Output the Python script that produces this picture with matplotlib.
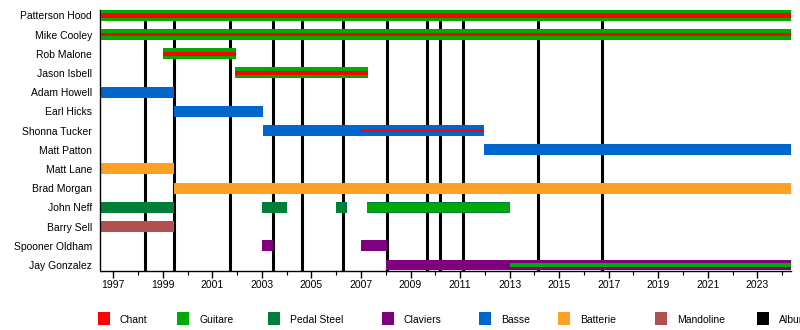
import matplotlib.pyplot as plt
from matplotlib.patches import Rectangle
import numpy as np

plt.rcParams['font.family'] = ['Liberation Sans', 'DejaVu Sans']

members = ["Patterson Hood", "Mike Cooley", "Rob Malone", "Jason Isbell",
           "Adam Howell", "Earl Hicks", "Shonna Tucker", "Matt Patton",
           "Matt Lane", "Brad Morgan", "John Neff", "Barry Sell",
           "Spooner Oldham", "Jay Gonzalez"]

start = 1996.48
today = 2024.35

# (member, from, to) in decimal years
vocals = [("Patterson Hood", start, today), ("Mike Cooley", start, today),
          ("Rob Malone", 1999.0, 2001.95), ("Jason Isbell", 2001.92, 2007.27),
          ("Shonna Tucker", 2007.0, 2011.95)]
guitar = [("Patterson Hood", start, today), ("Mike Cooley", start, today),
          ("Rob Malone", 1999.0, 2001.95), ("Jason Isbell", 2001.92, 2007.27),
          ("John Neff", 2007.23, 2013.02), ("Jay Gonzalez", 2013.0, today)]
pedal_steel = [("John Neff", start, 1999.44), ("John Neff", 2003.02, 2004.0),
               ("John Neff", 2006.0, 2006.42), ("John Neff", 2007.23, 2013.02)]
keys = [("Spooner Oldham", 2003.0, 2003.46), ("Spooner Oldham", 2007.0, 2008.04),
        ("Jay Gonzalez", 2008.0, today)]
bass = [("Adam Howell", start, 1999.44), ("Earl Hicks", 1999.44, 2003.03),
        ("Shonna Tucker", 2003.03, 2011.95), ("Matt Patton", 2011.95, today)]
drums = [("Matt Lane", start, 1999.44), ("Brad Morgan", 1999.44, today)]
mandolin = [("Barry Sell", start, 1999.44)]

albums = [1998.28, 1999.45, 2001.71, 2003.45, 2004.62, 2006.27, 2008.05,
          2009.68, 2010.2, 2011.13, 2014.16, 2016.74]

colors = {
    "Chant": "#ff0000",
    "Guitare": "#00aa00",
    "Pedal Steel": "#007f3a",
    "Claviers": "#7f007f",
    "Basse": "#0066cc",
    "Batterie": "#ffa026",
    "Mandoline": "#b05050",
    "Albums": "#000000",
}

fig = plt.figure(figsize=(8, 3.3), dpi=100)
ax = fig.add_axes([100.5 / 800, 59.5 / 330, 690.2 / 800, 260.5 / 330])

row = {m: i for i, m in enumerate(members)}
full_h = 0.57


def bars(entries, color, height, z):
    for m, a, b in entries:
        h = height(m) if callable(height) else height
        ax.barh(row[m], b - a, left=a, height=h, color=color,
                linewidth=0, zorder=z)


for x in albums:
    ax.axvline(x, color=colors["Albums"], lw=2.2, zorder=1)

bars(bass, colors["Basse"], full_h, 2)
bars(drums, colors["Batterie"], full_h, 2)
bars(mandolin, colors["Mandoline"], full_h, 2)
bars(keys, colors["Claviers"], full_h, 2)
bars(pedal_steel, colors["Pedal Steel"], full_h, 2)


def guitar_h(m):
    if m == "John Neff":
        return 0.45
    if m == "Jay Gonzalez":
        return 0.17
    return full_h


bars(guitar, colors["Guitare"], guitar_h, 3)


def vocal_h(m):
    return 0.17 if m in ("Mike Cooley", "Shonna Tucker") else 0.23


bars(vocals, colors["Chant"], vocal_h, 4)

ax.set_xlim(start, today)
ax.set_ylim(len(members) - 1 + 0.286, -0.276)
ax.set_yticks(range(len(members)))
ax.set_yticklabels(members, fontsize=7.5)
ax.tick_params(axis='y', length=0, pad=6)

ax.set_xticks(np.arange(1997, 2024, 2))
ax.set_xticks(np.arange(1997, 2025, 1), minor=True)
ax.tick_params(axis='x', which='major', length=5, width=1, pad=1.5, labelsize=7.5)
ax.tick_params(axis='x', which='minor', length=3, width=0.8)

for side in ("top", "right"):
    ax.spines[side].set_visible(False)
ax.spines["left"].set_linewidth(1)
ax.spines["bottom"].set_linewidth(1)
ax.spines["bottom"].set_zorder(5)

# legend row along the bottom edge
legend_items = [("Chant", 98, 120), ("Guitare", 177, 199),
                ("Pedal Steel", 268, 290), ("Claviers", 382, 404),
                ("Basse", 479, 501), ("Batterie", 558, 580),
                ("Mandoline", 655, 677), ("Albums", 757, 779)]
for name, sx, tx in legend_items:
    fig.add_artist(Rectangle((sx / 800, 1 - 325 / 330), 12 / 800, 13 / 330,
                             transform=fig.transFigure,
                             color=colors[name], lw=0))
    fig.text(tx / 800, 1 - 320 / 330, name, fontsize=7.5,
             ha='left', va='center')

fig.savefig("out.png", dpi=100)
